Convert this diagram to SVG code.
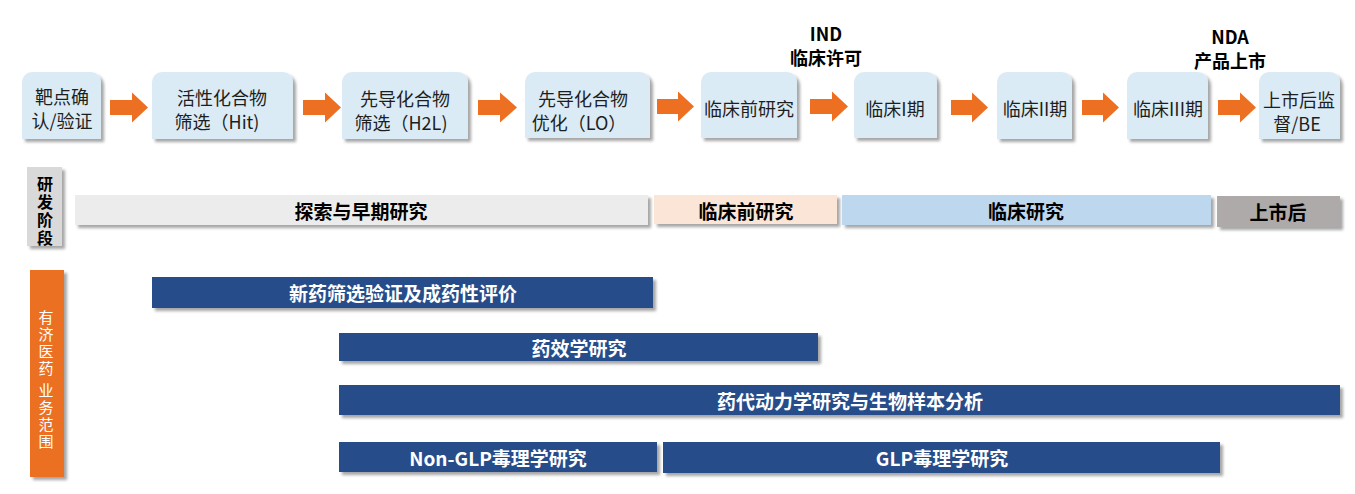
<svg xmlns="http://www.w3.org/2000/svg" width="1355" height="494" viewBox="0 0 1355 494">
<defs>
<filter id="sh" x="-10%" y="-20%" width="130%" height="160%">
<feDropShadow dx="3" dy="3" stdDeviation="1.6" flood-color="#000" flood-opacity="0.35"/>
</filter>
<style>
.box{fill:#DAEBF5;filter:url(#sh)}
.bt{font-family:"Noto Sans CJK SC","Noto Sans",sans-serif;font-size:18px;fill:#1e1e1e;text-anchor:middle;dominant-baseline:central}
.hd{font-family:"Noto Sans CJK SC","Noto Sans",sans-serif;font-size:18px;font-weight:bold;fill:#000;text-anchor:middle;dominant-baseline:central}
.arr{fill:#EC6F22}
.stg{filter:url(#sh)}
.st{font-family:"Noto Sans CJK SC","Noto Sans",sans-serif;font-size:19px;font-weight:bold;fill:#000;text-anchor:middle;dominant-baseline:central}
.bar{fill:#284E8A;filter:url(#sh)}
.bl{font-family:"Noto Sans CJK SC","Noto Sans",sans-serif;font-size:19px;font-weight:bold;fill:#fff;text-anchor:middle;dominant-baseline:central}
.vt{font-family:"Noto Sans CJK SC","Noto Sans",sans-serif;font-size:16px;font-weight:bold;fill:#000;text-anchor:middle;writing-mode:vertical-rl;letter-spacing:2px}
.vw{font-family:"Noto Sans CJK SC","Noto Sans",sans-serif;font-size:15px;fill:#fff;text-anchor:middle;writing-mode:vertical-rl;letter-spacing:2px}
</style>
</defs>
<rect width="1355" height="494" fill="#fff"/>

<!-- milestone labels -->
<g id="ind">
<text class="hd" x="826" y="33">IND</text>
<text class="hd" x="826" y="57">临床许可</text>
</g>
<g id="nda">
<text class="hd" x="1230" y="36">NDA</text>
<text class="hd" x="1230" y="60">产品上市</text>
</g>

<!-- process boxes -->
<g id="n1"><path class="box" d="M22 139V82A10 10 0 0 1 32 72H91A10 10 0 0 1 101 82V139Z"/>
<text class="bt" x="62" y="96">靶点确</text><text class="bt" x="62" y="120">认/验证</text></g>
<g id="n2"><path class="box" d="M152 139V82A10 10 0 0 1 162 72H283A10 10 0 0 1 293 82V139Z"/>
<text class="bt" x="222" y="97">活性化合物</text><text class="bt" x="217" y="121">筛选（Hit)</text></g>
<g id="n3"><path class="box" d="M342 139V82A10 10 0 0 1 352 72H458A10 10 0 0 1 468 82V139Z"/>
<text class="bt" x="405" y="98">先导化合物</text><text class="bt" x="401" y="122">筛选（H2L)</text></g>
<g id="n4"><path class="box" d="M525 138V82A10 10 0 0 1 535 72H640A10 10 0 0 1 650 82V138Z"/>
<text class="bt" x="583" y="98">先导化合物</text><text class="bt" x="579" y="122">优化（LO）</text></g>
<g id="n5"><path class="box" d="M701 138V82A10 10 0 0 1 711 72H787A10 10 0 0 1 797 82V138Z"/>
<text class="bt" x="749" y="108">临床前研究</text></g>
<g id="n6"><path class="box" d="M854 138V82A10 10 0 0 1 864 72H927A10 10 0 0 1 937 82V138Z"/>
<text class="bt" x="895" y="108">临床I期</text></g>
<g id="n7"><path class="box" d="M997 139V82A10 10 0 0 1 1007 72H1062A10 10 0 0 1 1072 82V139Z"/>
<text class="bt" x="1035" y="108">临床II期</text></g>
<g id="n8"><path class="box" d="M1127 139V82A10 10 0 0 1 1137 72H1198A10 10 0 0 1 1208 82V139Z"/>
<text class="bt" x="1168" y="108">临床III期</text></g>
<g id="n9"><path class="box" d="M1259 139V82A10 10 0 0 1 1269 72H1330A10 10 0 0 1 1340 82V139Z"/>
<text class="bt" x="1299" y="99">上市后监</text><text class="bt" x="1297" y="123">督/BE</text></g>

<!-- connectors -->
<g id="connectors">
<path class="arr" d="M110 100H132V92.5L148 107.5L132 122.5V115H110Z"/>
<path class="arr" d="M303 100H325V92.5L341 107.5L325 122.5V115H303Z"/>
<path class="arr" d="M478 100H500V92.5L517 107.5L500 122.5V115H478Z"/>
<path class="arr" d="M657 99H678V91.5L694 106.5L678 121.5V114H657Z"/>
<path class="arr" d="M810 99H832V91.5L848 106.5L832 121.5V114H810Z"/>
<path class="arr" d="M951 100H972V92.5L988 107.5L972 122.5V115H951Z"/>
<path class="arr" d="M1082 100H1103V92.5L1119 107.5L1103 122.5V115H1082Z"/>
<path class="arr" d="M1218 100H1240V92.5L1256 107.5L1240 122.5V115H1218Z"/>
</g>

<!-- stage row -->
<g id="stage-label">
<rect class="stg" x="27" y="167" width="35" height="79" fill="#D9D9D9"/>
<text class="vt" x="45" y="212">研发阶段</text>
</g>
<g id="s1"><rect class="stg" x="75" y="195" width="573" height="30" fill="#ECECEC"/><text class="st" x="361" y="210">探索与早期研究</text></g>
<g id="s2"><rect class="stg" x="654" y="195" width="183" height="29" fill="#FBE5D7"/><text class="st" x="746" y="210">临床前研究</text></g>
<g id="s3"><rect class="stg" x="842" y="195" width="369" height="30" fill="#BDD7EE"/><text class="st" x="1026" y="210">临床研究</text></g>
<g id="s4"><rect class="stg" x="1217" y="196" width="123" height="31" fill="#AEAAAA"/><text class="st" x="1278" y="211">上市后</text></g>

<!-- business scope -->
<g id="scope-label">
<rect class="stg" x="30" y="270" width="34" height="207" fill="#EC6F22"/>
<text class="vw" x="46" y="380">有济医药 业务范围</text>
</g>
<g id="b1"><rect class="bar" x="152" y="277" width="501" height="31"/><text class="bl" x="403" y="292.5">新药筛选验证及成药性评价</text></g>
<g id="b2"><rect class="bar" x="339" y="333" width="479" height="28"/><text class="bl" x="579" y="347">药效学研究</text></g>
<g id="b3"><rect class="bar" x="339" y="385" width="1001" height="30"/><text class="bl" x="850" y="400">药代动力学研究与生物样本分析</text></g>
<g id="b4"><rect class="bar" x="339" y="442" width="318" height="30"/><text class="bl" x="498" y="457">Non-GLP毒理学研究</text></g>
<g id="b5"><rect class="bar" x="663" y="442" width="557" height="31"/><text class="bl" x="942" y="457">GLP毒理学研究</text></g>
</svg>
